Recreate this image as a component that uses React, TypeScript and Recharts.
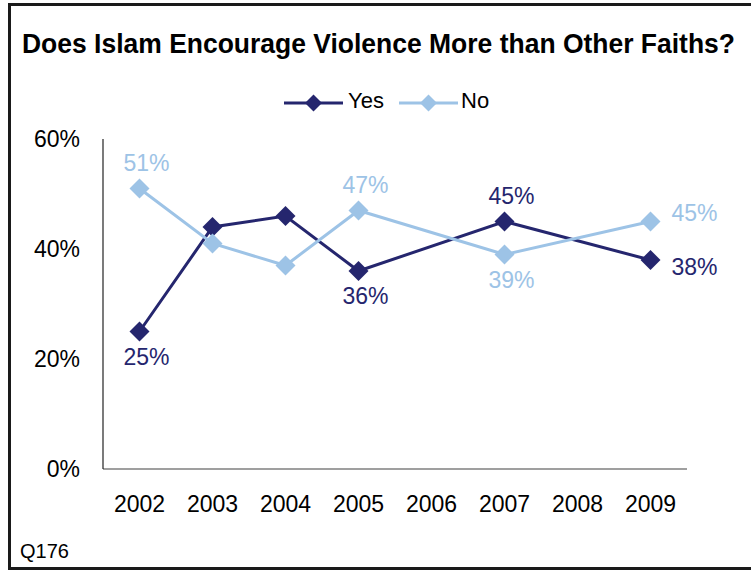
import React from 'react';
import { LineChart, Line, XAxis, YAxis, LabelList } from 'recharts';

const years: string[] = ['2002', '2003', '2004', '2005', '2006', '2007', '2008', '2009'];
const yesValues: (number | null)[] = [25, 44, 46, 36, null, 45, null, 38];
const noValues: (number | null)[] = [51, 41, 37, 47, null, 39, null, 45];
const yTicks: number[] = [0, 20, 40, 60];
const yesLabelShown: boolean[] = [true, false, false, true, false, true, false, true];
const noLabelShown: boolean[] = [true, false, false, true, false, true, false, true];

const YES_COLOR = '#25266E';
const NO_COLOR = '#9DC3E6';
const FONT = '"Liberation Sans", Arial, Helvetica, sans-serif';

// label placement (styling, not data)
const yesPlacement = ['below', '', '', 'below', '', 'above', '', 'rightDown'];
const noPlacement = ['above', '', '', 'above', '', 'below', '', 'rightUp'];

const data = years.map((year, i) => ({ year, yes: yesValues[i], no: noValues[i] }));

const Diamond = (props: any) => {
  const { cx, cy, fill, index, half } = props;
  const r = half;
  if (cx == null || cy == null || props.value == null) return <g key={`d-${index}`} />;
  return (
    <path
      key={`d-${index}`}
      d={`M${cx},${cy - r} L${cx + r},${cy} L${cx},${cy + r} L${cx - r},${cy} Z`}
      fill={fill}
      stroke="none"
    />
  );
};

const makeLabel = (placement: string[], shown: boolean[], color: string) => (props: any) => {
  const { x, y, value, index } = props;
  if (value == null || !shown[index]) return null;
  const p = placement[index];
  let tx = x + 7;
  let ty = y;
  let anchor: 'middle' | 'start' = 'middle';
  if (p === 'above') ty = y - 26;
  else if (p === 'below') ty = y + 25;
  else if (p === 'rightUp') {
    tx = x + 21;
    ty = y - 9;
    anchor = 'start';
  } else if (p === 'rightDown') {
    tx = x + 21;
    ty = y + 7;
    anchor = 'start';
  }
  return (
    <text
      x={tx}
      y={ty}
      dy="0.36em"
      textAnchor={anchor}
      fill={color}
      fontSize={23}
      fontFamily={FONT}
    >
      {`${value}%`}
    </text>
  );
};

const LegendIcon = ({ x, color }: { x: number; color: string }) => (
  <g>
    <line x1={x} y1={103} x2={x + 59} y2={103} stroke={color} strokeWidth={3} />
    <path
      d={`M${x + 29.5},${94.5} L${x + 38},${103} L${x + 29.5},${111.5} L${x + 21},${103} Z`}
      fill={color}
    />
  </g>
);

export default function App() {
  return (
    <div style={{ position: 'absolute', left: 0, top: 0, width: 751, height: 571, overflow: 'hidden', background: '#fff' }}>
      <div
        style={{
          position: 'absolute',
          left: 8,
          top: 3,
          width: 770,
          height: 567,
          border: '3px solid #1a1a1a',
          boxSizing: 'border-box',
        }}
      />
      <div style={{ position: 'absolute', left: 0, top: 0 }}>
        <LineChart
          width={751}
          height={571}
          data={data}
          margin={{ top: 139, right: 64, bottom: 62, left: 0 }}
        >
          <XAxis
            dataKey="year"
            padding={{ left: 36.5, right: 36.5 }}
            axisLine={{ stroke: '#7f7f7f', strokeWidth: 1.5 }}
            tickLine={false}
            tickSize={0}
            tickMargin={27}
            height={40}
            tick={{ fill: '#000', fontSize: 23, fontFamily: FONT }}
          />
          <YAxis
            domain={[0, 60]}
            ticks={yTicks}
            tickFormatter={(v: number) => `${v}%`}
            width={103}
            axisLine={{ stroke: '#222', strokeWidth: 1.2 }}
            tickLine={false}
            tickSize={0}
            tickMargin={23}
            tick={{ fill: '#000', fontSize: 23, fontFamily: FONT }}
          />
          <Line
            dataKey="yes"
            stroke={YES_COLOR}
            strokeWidth={3}
            connectNulls
            isAnimationActive={false}
            dot={(p: any) => <Diamond {...p} half={10} fill={YES_COLOR} />}
            activeDot={false}
          >
            <LabelList dataKey="yes" content={makeLabel(yesPlacement, yesLabelShown, YES_COLOR)} />
          </Line>
          <Line
            dataKey="no"
            stroke={NO_COLOR}
            strokeWidth={3}
            connectNulls
            isAnimationActive={false}
            dot={(p: any) => <Diamond {...p} half={10} fill={NO_COLOR} />}
            activeDot={false}
          >
            <LabelList dataKey="no" content={makeLabel(noPlacement, noLabelShown, NO_COLOR)} />
          </Line>
        </LineChart>
      </div>
      <svg
        width={751}
        height={571}
        style={{ position: 'absolute', left: 0, top: 0, pointerEvents: 'none' }}
      >
        <text x={22} y={53} fontSize={27} fontWeight="bold" fontFamily={FONT} fill="#000" textLength={713} lengthAdjust="spacingAndGlyphs">
          Does Islam Encourage Violence More than Other Faiths?
        </text>
        <LegendIcon x={284} color={YES_COLOR} />
        <text x={348} y={108} fontSize={22} fontFamily={FONT} fill="#000">Yes</text>
        <LegendIcon x={399} color={NO_COLOR} />
        <text x={461} y={108} fontSize={22} fontFamily={FONT} fill="#000">No</text>
        <text x={20} y={558} fontSize={20} fontFamily={FONT} fill="#000">Q176</text>
      </svg>
    </div>
  );
}
